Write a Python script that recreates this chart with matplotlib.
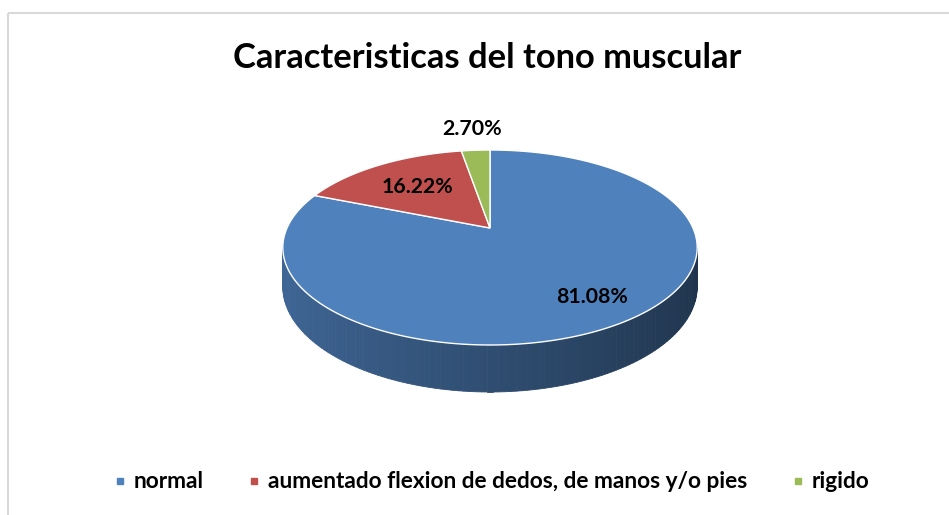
import numpy as np
import matplotlib
matplotlib.use("Agg")
import matplotlib.pyplot as plt
from matplotlib.patches import Polygon, Rectangle
from matplotlib.lines import Line2D
from matplotlib.colors import to_rgb

# data
categories = ["normal", "aumentado flexion de dedos, de manos y/o pies", "rigido"]
values = [81.08, 16.22, 2.70]
labels = ["81.08%", "16.22%", "2.70%"]
colors = ["#4F81BD", "#C0504D", "#9BBB59"]
title = "Caracteristicas del tono muscular"

# layout (pixels)
label_radius = [0.78, 0.62, 1.35]
CX, CY = 490, 228          # pie apex
A, B, K = 203, 93.6, 0.2   # ellipse half width / height, perspective
DEPTH = 37.6

plt.rcParams['font.family'] = ['Lato', 'DejaVu Sans']

fig = plt.figure(figsize=(9.49, 5.15), dpi=100)
ax = fig.add_axes([0, 0, 1, 1])
ax.set_xlim(0, 949)
ax.set_ylim(515, 0)
ax.axis('off')
renderer = fig.canvas.get_renderer()


def proj(phi, r=1.0):
    X = r * np.cos(phi)
    Z = r * np.sin(phi)
    w = 1 + K * Z
    return CX + A * X / w, CY - B * Z / w


def drop(phi):
    return DEPTH / (1 + K * np.sin(phi))


def fit(t, width):
    w = t.get_window_extent(renderer).width
    t.set_fontsize(t.get_fontsize() * width / w)


# chart border
ax.add_patch(Rectangle((8.5, 12.5), 1000, 600, fill=False, edgecolor="#d9d9d9", lw=1.5))

# slice angles, clockwise from 12 o'clock
total = sum(values)
cum = np.concatenate([[0], np.cumsum(values)]) / total * 2 * np.pi
starts = np.pi / 2 - cum[:-1]
ends = np.pi / 2 - cum[1:]

# visible front side of the cylinder, darker towards the right
vis_lo, vis_hi = -np.pi + np.arcsin(K), -np.arcsin(K)
for i in range(len(values)):
    lo, hi = ends[i], starts[i]
    base = np.array(to_rgb(colors[i]))
    for shift in (-2 * np.pi, 0, 2 * np.pi):
        a, b = max(lo + shift, vis_lo), min(hi + shift, vis_hi)
        if a >= b:
            continue
        phis = np.linspace(a, b, 120)
        for p0, p1 in zip(phis[:-1], phis[1:]):
            x0, y0 = proj(p0)
            x1, y1 = proj(p1)
            pm = (p0 + p1) / 2
            shade = 0.6 - 0.2 * np.cos(pm)
            quad = [(x0, y0), (x1, y1), (x1, y1 + drop(p1)), (x0, y0 + drop(p0))]
            ax.add_patch(Polygon(quad, closed=True, facecolor=base * shade,
                                 edgecolor=base * shade, lw=0.6))

# top faces
for i in range(len(values)):
    phis = np.linspace(starts[i], ends[i], 200)
    xs, ys = proj(phis)
    pts = [(CX, CY)] + list(zip(xs, ys))
    ax.add_patch(Polygon(pts, closed=True, facecolor=colors[i],
                         edgecolor="white", lw=1.0))

# data labels
for i in range(len(values)):
    mid = (starts[i] + ends[i]) / 2
    x, y = proj(mid, label_radius[i])
    t = ax.text(x, y, labels[i], ha='center', va='center', fontsize=14,
                fontweight='bold', color='black')
    fit(t, 72 if i < 2 else 60)

# title
t = ax.text(487, 58, title, ha='center', va='center', fontsize=20, fontweight='bold')
fit(t, 509)

# legend
probe = ax.text(0, 0, categories[1], fontsize=12, fontweight='bold')
fit(probe, 477)
leg_fs = probe.get_fontsize()
probe.remove()
handles = [Line2D([], [], marker='s', ls='', markersize=5, color=c) for c in colors]
ax.legend(handles, categories, loc='center', bbox_to_anchor=(491 / 949, 1 - 482 / 515),
          ncol=3, frameon=False, prop={'weight': 'bold', 'size': leg_fs},
          handlelength=0.6, handletextpad=0.3, columnspacing=1.95)

fig.savefig("out.png", dpi=100)
